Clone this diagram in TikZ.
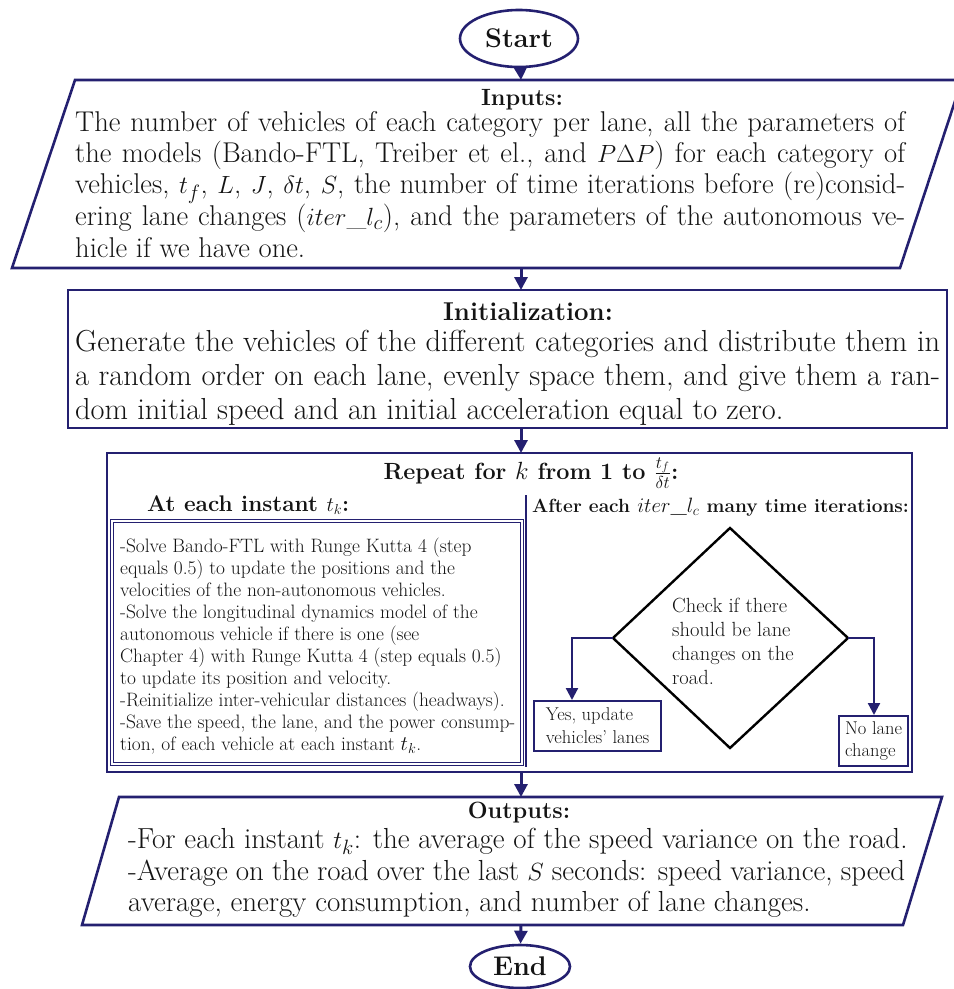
\documentclass[tikz,border=0pt]{standalone}
\usetikzlibrary{arrows.meta,shapes.geometric}
\definecolor{navy}{RGB}{36,32,112}
\definecolor{ink}{RGB}{20,20,20}
\newcommand{\jline}[2]{\makebox[#1][s]{#2}}
\begin{document}
\begin{tikzpicture}[x=1pt,y=-1pt,
  box/.style={draw=navy, line width=2.6pt},
  arr/.style={navy, line width=3pt, -{Triangle[width=13pt,length=13pt]}},
  thinarr/.style={navy, line width=2.2pt, -{Triangle[width=12pt,length=12pt]}},
  term/.style={ellipse, draw=navy, line width=2.6pt, inner sep=0pt, text=ink, font=\fontsize{27}{30}\selectfont\bfseries},
  txt/.style={inner sep=0pt, align=left, text=ink},
  smallbox/.style={draw=navy, line width=2.2pt, anchor=north west, inner sep=0pt, align=left, text=ink, font=\fontsize{18.5}{23}\selectfont},
]
\useasboundingbox (0,0) rectangle (954,989);
\fill[white] (0,0) rectangle (954,989);

% Start
\node[term, minimum width=118pt, minimum height=57pt] (start) at (519,38.5) {Start};

% Inputs
\draw[box] (75,80) -- (962,80) -- (900,268) -- (12,268) -- cycle;
\coordinate (inT) at (521,80);
\coordinate (inB) at (521,268);
\node[txt, font=\fontsize{23.5}{26}\selectfont\bfseries] (inTitle) at (522,100) {Inputs:};
\node[txt, anchor=north west, font=\fontsize{28.6}{31.2}\selectfont] (inBody) at (75,111) {%
\jline{830pt}{The number of vehicles of each category per lane, all the parameters of}\\
\jline{830pt}{the models (Bando-FTL, Treiber et el., and $P\Delta P$) for each category of}\\
\jline{830pt}{vehicles, $t_f$, $L$, $J$, $\delta t$, $S$, the number of time iterations before (re)consid-}\\
\jline{830pt}{ering lane changes ($iter\_l_c$), and the parameters of the autonomous ve-}\\
hicle if we have one.};

% Initialization
\draw[box] (68,290) rectangle (947,428);
\coordinate (initT) at (521,290);
\coordinate (initB) at (521,428);
\node[txt, font=\fontsize{25.8}{28}\selectfont\bfseries] (initTitle) at (528,312) {Initialization:};
\node[txt, anchor=north west, font=\fontsize{30.4}{34}\selectfont] (initBody) at (75,330) {%
\jline{865pt}{Generate the vehicles of the different categories and distribute them in}\\
\jline{865pt}{a random order on each lane, evenly space them, and give them a ran-}\\
dom initial speed and an initial acceleration equal to zero.};

% Repeat box
\draw[box] (107,453) rectangle (912,772);
\coordinate (repT) at (521,453);
\coordinate (repB) at (521,772);
\node[txt, font=\fontsize{23.4}{26}\selectfont\bfseries] (repTitle) at (531,473) {Repeat for $k$ from 1 to $\frac{t_f}{\delta t}$:};
\coordinate (divT) at (526,495);
\coordinate (divB) at (526,767);
\draw[navy, line width=2.2pt] (divT) -- (divB);
\node[txt, anchor=west, font=\fontsize{22.6}{26}\selectfont\bfseries] (atTitle) at (147,505) {At each instant $t_k$:};
\draw[navy, double=white, double distance=1.3pt, line width=1.1pt] (112,521) rectangle (522,764);
\node[txt, anchor=north west, font=\fontsize{19.4}{22}\selectfont] (atBody) at (120,537.5) {%
-Solve Bando-FTL with Runge Kutta 4 (step\\
equals 0.5) to update the positions and the\\
velocities of the non-autonomous vehicles.\\
-Solve the longitudinal dynamics model of the\\
autonomous vehicle if there is one (see\\
Chapter 4) with Runge Kutta 4 (step equals 0.5)\\
to update its position and velocity.\\
-Reinitialize inter-vehicular distances (headways).\\
-Save the speed, the lane, and the power consump-\\
tion, of each vehicle at each instant $t_k$.};

\node[txt, font=\fontsize{19.1}{22}\selectfont\bfseries] (afTitle) at (720.5,507) {After each $iter\_l_c$ many time iterations:};

% Diamond
\coordinate (dT) at (730,528);
\coordinate (dL) at (613,638);
\coordinate (dR) at (848,638);
\coordinate (dB) at (730,748);
\draw[black, line width=2.4pt, line join=miter] (dT) -- (dR) -- (dB) -- (dL) -- cycle;
\node[txt, anchor=north west, font=\fontsize{20.5}{24}\selectfont] (dText) at (672,597.5) {%
Check if there\\
should be lane\\
changes on the\\
road.};

% Yes / No boxes
\node[smallbox, minimum width=127pt, minimum height=50pt] (yes) at (533,700) {Yes, update\\vehicles' lanes};
\node[smallbox, minimum width=69pt, minimum height=50pt, font=\fontsize{18.5}{22}\selectfont] (no) at (838,715) {No lane\\change};
\coordinate (yesA) at (572,700);
\coordinate (noA) at (874,715);
\draw[thinarr] (dL) -| (yesA);
\draw[thinarr] (dR) -| (noA);

% Outputs
\draw[box] (119,797) -- (942,797) -- (903,925) -- (82,925) -- cycle;
\coordinate (outT) at (521,797);
\coordinate (outB) at (521,925);
\node[txt, font=\fontsize{23.5}{26}\selectfont\bfseries] (outTitle) at (519,813) {Outputs:};
\node[txt, anchor=north west, font=\fontsize{29}{31.5}\selectfont] (outBody) at (128,828) {%
-For each instant $t_k$: the average of the speed variance on the road.\\
\jline{777pt}{-Average on the road over the last $S$ seconds: speed variance, speed}\\
average, energy consumption, and number of lane changes.};

% End
\node[term, minimum width=100pt, minimum height=43pt] (end) at (520,966.5) {End};

% Connectors
\draw[arr] (start) -- (inT);
\draw[arr] (inB) -- (initT);
\draw[arr] (initB) -- (repT);
\draw[arr] (repB) -- (outT);
\draw[arr] (outB) -- (end);
\end{tikzpicture}
\end{document}
